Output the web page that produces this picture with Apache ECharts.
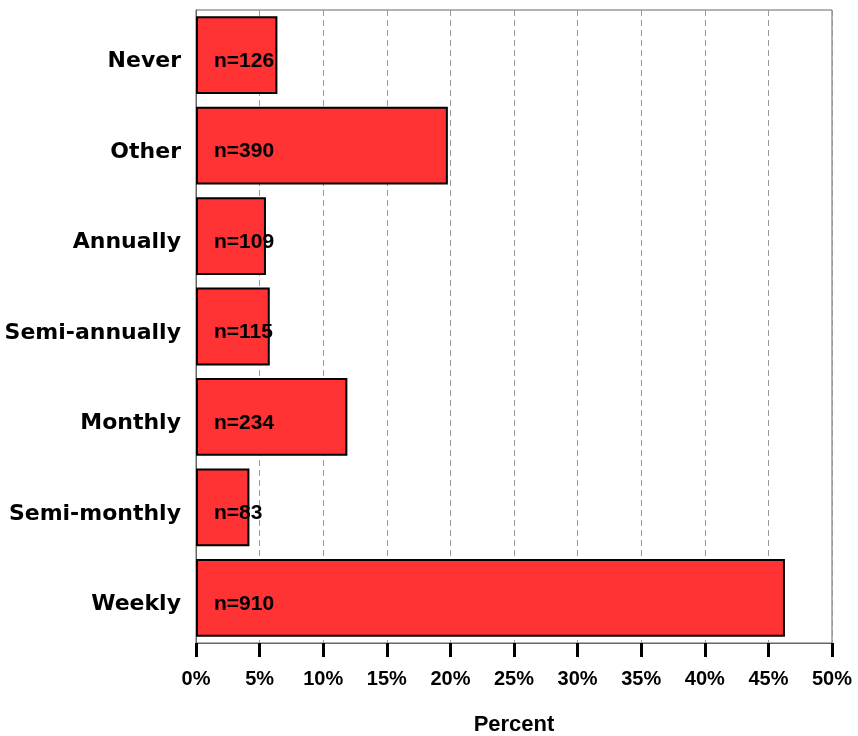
<!DOCTYPE html>
<html><head><meta charset="utf-8">
<script src="https://cdn.jsdelivr.net/npm/echarts@6/dist/echarts.min.js"></script>
<style>html,body{margin:0;padding:0;background:#fff}#c{width:858px;height:736px}</style>
</head><body><div id="c"></div>
<script>
const categories = ['Never','Other','Annually','Semi-annually','Monthly','Semi-monthly','Weekly'];
const percentValues = [6.4, 19.8, 5.5, 5.8, 11.9, 4.2, 46.3];
const nLabels = ['n=126','n=390','n=109','n=115','n=234','n=83','n=910'];
const xTicks = [0,5,10,15,20,25,30,35,40,45,50];

const chart = echarts.init(document.getElementById('c'));
chart.setOption({
  animation: false,
  backgroundColor: '#fff',
  grid: {left: 196, right: 26, top: 10, bottom: 93, show: true, borderColor: '#666', borderWidth: 1, containLabel: false, outerBoundsMode: 'none'},
  xAxis: {
    type: 'value', min: xTicks[0], max: xTicks[xTicks.length-1], interval: 5,
    name: 'Percent', nameLocation: 'middle', nameGap: 71,
    nameTextStyle: {fontFamily: 'Liberation Sans', fontWeight: 'bold', fontSize: 22, color: '#000'},
    axisLine: {show: true, lineStyle: {color: '#666', width: 1}},
    axisTick: {show: true, length: 14, lineStyle: {color: '#000', width: 3}},
    axisLabel: {formatter: v => v + '%', margin: 26, fontFamily: 'Liberation Sans', fontWeight: 'bold', fontSize: 20, color: '#000'},
    splitLine: {show: true, lineStyle: {color: '#999', type: [6, 4], width: 1}}
  },
  yAxis: {
    type: 'category', data: categories, inverse: true,
    axisLine: {show: true, lineStyle: {color: '#666', width: 1}},
    axisTick: {show: false},
    axisLabel: {
      margin: 15, formatter: v => '{a|' + v + '}',
      rich: {a: {padding: [13, 0, 0, 0], fontFamily: 'DejaVu Sans', fontWeight: 'bold', fontSize: 22, color: '#000'}}
    }
  },
  series: [{
    type: 'bar',
    data: percentValues,
    barCategoryGap: '14%',
    itemStyle: {color: '#FF3333', borderColor: '#000', borderWidth: 2},
    label: {
      show: true, position: 'insideLeft', distance: 18, offset: [0, 6],
      formatter: p => nLabels[p.dataIndex],
      fontFamily: 'Liberation Sans', fontWeight: 'bold', fontSize: 21, color: '#000'
    }
  }]
});
</script></body></html>
